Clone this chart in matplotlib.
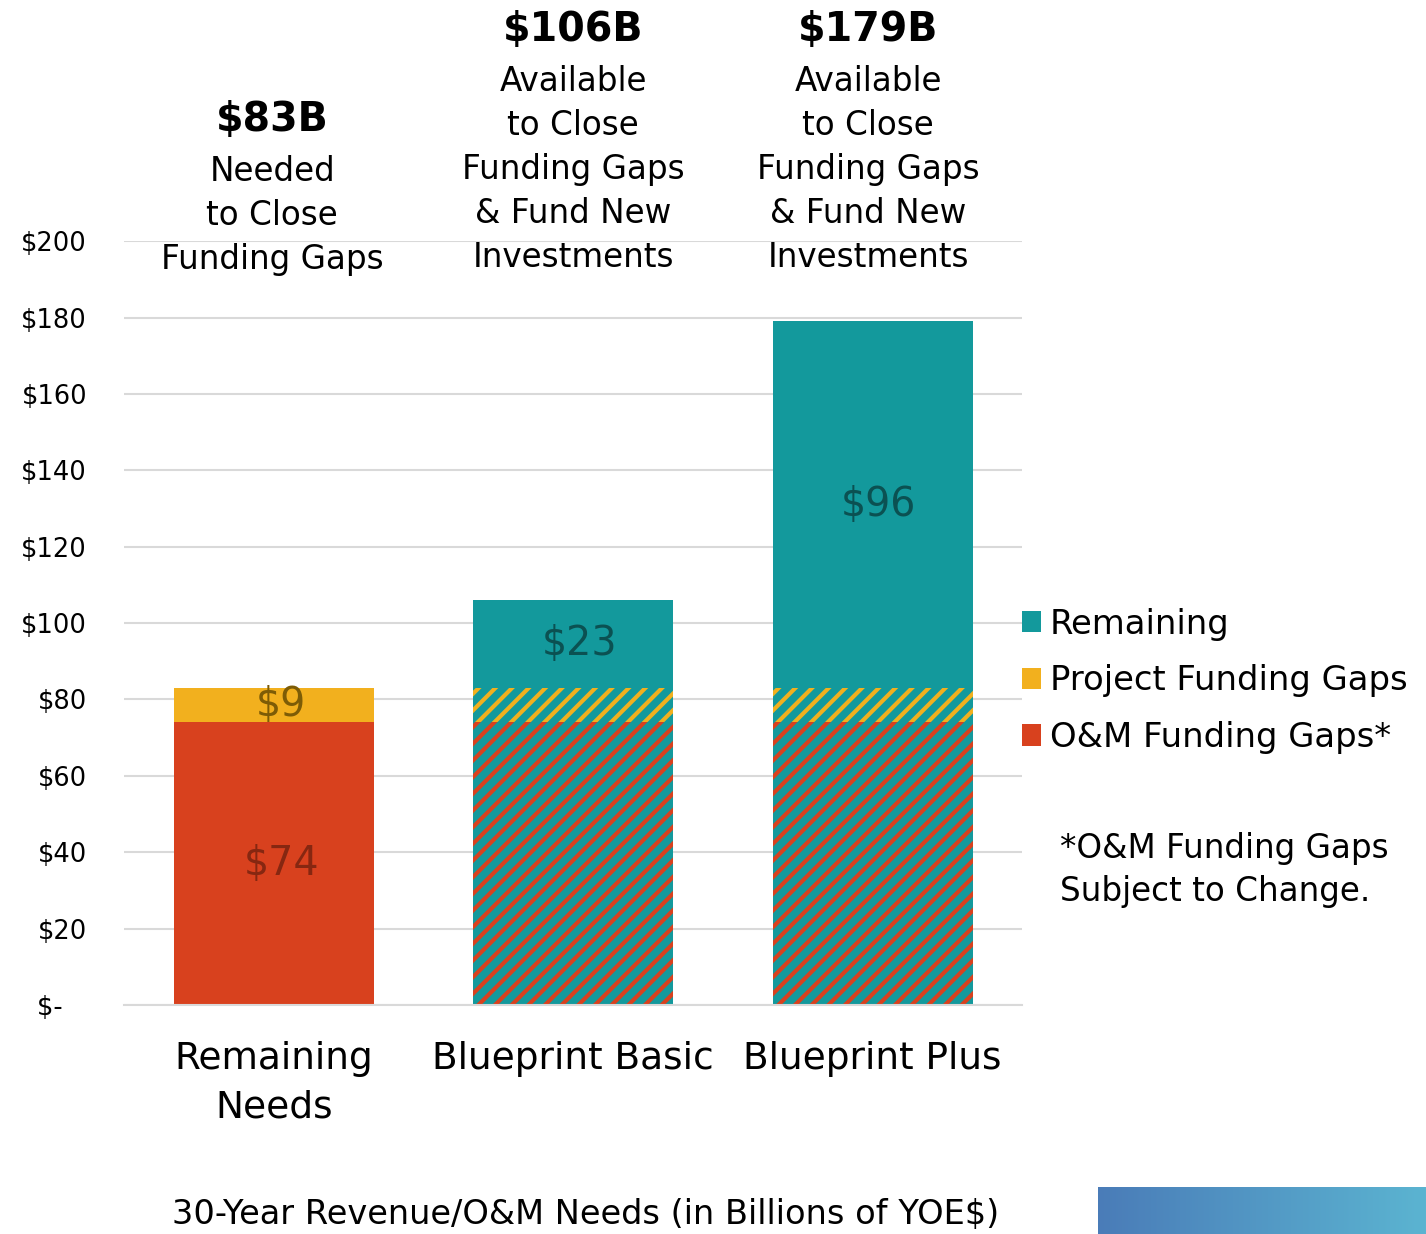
import numpy as np
import matplotlib
matplotlib.use("Agg")
import matplotlib.pyplot as plt
from matplotlib.patches import Patch
from matplotlib import transforms

# data (billions of YOE$)
categories = ["Remaining\nNeeds", "Blueprint Basic", "Blueprint Plus"]
om_gaps = [74, 74, 74]
project_gaps = [9, 9, 9]
remaining = [0, 23, 96]
gap_is_funded = [False, True, True]   # funded gaps drawn hatched over teal
totals = ["$83B", "$106B", "$179B"]
headers = ["Needed\nto Close\nFunding Gaps",
           "Available\nto Close\nFunding Gaps\n& Fund New\nInvestments",
           "Available\nto Close\nFunding Gaps\n& Fund New\nInvestments"]
yticks = [0, 20, 40, 60, 80, 100, 120, 140, 160, 180, 200]
ytick_labels = ["$-   ", "$20", "$40", "$60", "$80", "$100", "$120",
                "$140", "$160", "$180", "$200"]

TEAL = "#13999c"
GOLD = "#f2b01e"
RED = "#d8411e"
GRID = "#d9d9d9"

plt.rcParams["font.family"] = "DejaVu Sans"
plt.rcParams["hatch.linewidth"] = 3.0

fig = plt.figure(figsize=(14.26, 12.34), dpi=100)
ax = fig.add_axes([0.087, 0.1856, 0.630, 0.619])

x = np.arange(len(categories))
w = 0.667

for i in range(len(categories)):
    if gap_is_funded[i]:
        ax.bar(x[i], om_gaps[i], w, color=TEAL, edgecolor=RED, hatch="//", linewidth=0, zorder=2)
        ax.bar(x[i], project_gaps[i], w, bottom=om_gaps[i], color=TEAL, edgecolor=GOLD,
               hatch="//", linewidth=0, zorder=2)
    else:
        ax.bar(x[i], om_gaps[i], w, color=RED, linewidth=0, zorder=2)
        ax.bar(x[i], project_gaps[i], w, bottom=om_gaps[i], color=GOLD, linewidth=0, zorder=2)
    if remaining[i] > 0:
        base = om_gaps[i] + project_gaps[i]
        ax.bar(x[i], remaining[i], w, bottom=base, color=TEAL, linewidth=0, zorder=2)
        ax.text(x[i] + 0.02, base + remaining[i] / 2, f"${remaining[i]}", ha="center",
                va="center", fontsize=28.5, color="#0b5152", zorder=3)

# value labels in the unfunded bar
ax.text(x[0] + 0.025, om_gaps[0] / 2, f"${om_gaps[0]}", ha="center", va="center",
        fontsize=28.5, color="#862711", zorder=3)
ax.text(x[0] + 0.025, om_gaps[0] + project_gaps[0] / 2, f"${project_gaps[0]}", ha="center",
        va="center", fontsize=28.5, color="#7d5c06", zorder=3)

ax.set_xlim(-0.5, 2.5)
ax.set_ylim(0, 200)
ax.set_yticks(yticks)
ax.set_yticklabels(ytick_labels, fontsize=18.5)
ax.set_xticks(x)
ax.set_xticklabels(categories, fontsize=27, linespacing=1.45)
ax.tick_params(axis="y", length=0, pad=26.6)
ax.tick_params(axis="x", length=0, pad=26)
ax.grid(axis="y", color=GRID, linewidth=1.5, zorder=0)
for s in ["top", "right", "left"]:
    ax.spines[s].set_visible(False)
ax.spines["bottom"].set_color(GRID)
ax.spines["bottom"].set_linewidth(1.5)

ax.set_xlabel("30-Year Revenue/O&M Needs (in Billions of YOE$)", fontsize=24.2, va="center")
ax.xaxis.set_label_coords((585 - 124) / 898, (1005 - 1215) / 764)

# headers above the bars
tr = transforms.blended_transform_factory(ax.transData, fig.transFigure)
title_y = [1 - 120 / 1234, 1 - 30 / 1234, 1 - 30 / 1234]
title_dx = [-0.005, 0.0, -0.015]
for i in range(len(categories)):
    ax.text(x[i] + title_dx[i], title_y[i], totals[i], transform=tr, ha="center", va="center",
            fontsize=28.5, fontweight="bold")
    ax.text(x[i] + title_dx[i], title_y[i] - 35 / 1234, headers[i], transform=tr, ha="center",
            va="top", fontsize=23.5, linespacing=1.42)

# legend
handles = [Patch(facecolor=TEAL, label="Remaining"),
           Patch(facecolor=GOLD, label="Project Funding Gaps"),
           Patch(facecolor=RED, label="O&M Funding Gaps*")]
fig.legend(handles=handles, loc="upper left", bbox_to_anchor=(1008 / 1426, 1 - 594 / 1234),
           frameon=False, fontsize=24.4, handlelength=0.58, handleheight=0.58,
           handletextpad=0.25, labelspacing=0.7, borderaxespad=0)

fig.text(1060 / 1426, 1 - 870 / 1234, "*O&M Funding Gaps\nSubject to Change.", ha="left",
         va="center", fontsize=23.5, linespacing=1.35)

# gradient strip in the corner
grad_ax = fig.add_axes([1098 / 1426, 0, 328 / 1426, 47 / 1234])
grad = np.linspace(0, 1, 256).reshape(1, -1)
cmap = matplotlib.colors.LinearSegmentedColormap.from_list("strip", ["#4a7cb8", "#5bb4d1"])
grad_ax.imshow(grad, aspect="auto", cmap=cmap)
grad_ax.axis("off")

fig.savefig("out.png", dpi=100)
